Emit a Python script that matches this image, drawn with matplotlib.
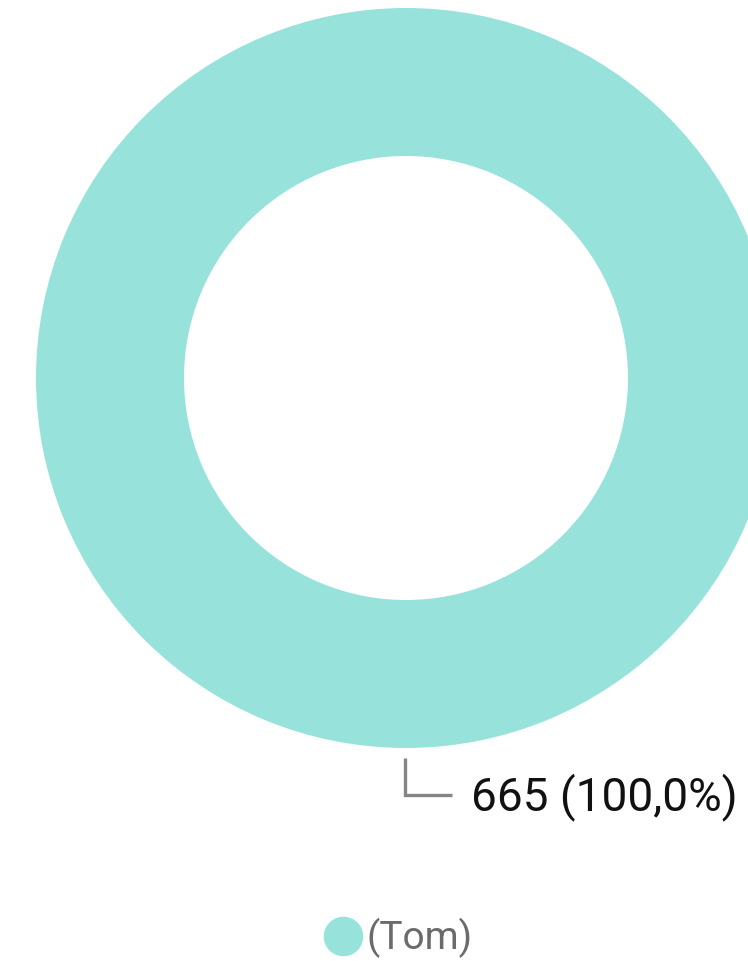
import matplotlib.pyplot as plt

labels = ['(Tom)']
values = [665]
colors = ['#98E2DC']

total = sum(values)
pct_text = [f"{v} ({v / total * 100:.1f}%)".replace('.', ',') for v in values]

W, H = 748, 961
fig = plt.figure(figsize=(W / 100, H / 100), dpi=100)
ax = fig.add_axes([0, 0, 1, 1])

# donut, in pixel-sized data units
cx, cy, r_out, ring = 406, 378, 370, 148
ax.pie(values, colors=colors, startangle=90, counterclock=False,
       center=(cx, cy), radius=r_out,
       wedgeprops=dict(width=ring, edgecolor='none'))

ax.set_xlim(0, W)
ax.set_ylim(H, 0)
ax.set_aspect('equal')
ax.axis('off')

# leader line with elbow below the ring
ax.plot([405, 405, 452], [758, 795, 795], color='#858585', lw=2.4,
        solid_joinstyle='miter', solid_capstyle='butt')
ax.text(471, 797, pct_text[0], fontsize=33, family='Roboto',
        color='#111111', va='center', ha='left')

# legend
ax.plot([343], [936], marker='o', markersize=28.5, color=colors[0],
        markeredgewidth=0)
ax.text(367, 938, labels[0], fontsize=28, family='Roboto',
        color='#6b6b6b', va='center', ha='left')

fig.savefig('out.png', dpi=100)
